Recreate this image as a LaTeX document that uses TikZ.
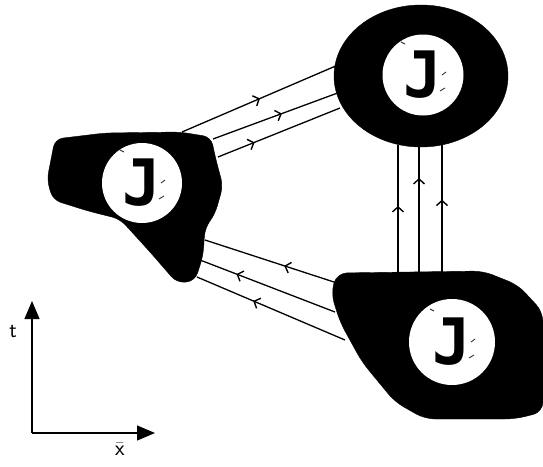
\documentclass[tikz,border=0pt]{standalone}
\usepackage{fontspec}
\newfontfamily\jfont{DejaVu Sans Mono}
\usetikzlibrary{arrows.meta,decorations.markings}
\tikzset{
  blob/.style={fill=black, draw=black},
  hole/.style={circle, fill=white, inner sep=0pt, font=\jfont\bfseries\fontsize{64}{66}\selectfont},
  wire/.style={line width=1.3pt},
  chev/.style={postaction={decorate, decoration={markings, mark=at position #1 with {\arrow{Straight Barb[length=5pt,width=11pt,line width=1.4pt]}}}}},
  axis/.style={line width=1.2pt, -{Triangle[length=18pt,width=15pt]}},
  speck/.style={line width=0.9pt, black!80},
  lab/.style={font=\sffamily\fontsize{22}{24}\selectfont, inner sep=0pt}
}
\begin{document}
\begin{tikzpicture}[x=1pt,y=-1pt]
\useasboundingbox (0,0) rectangle (543,466);
% blobs
\fill[blob] (421,76) ellipse [x radius=87, y radius=71];
\fill[blob, rounded corners=8pt] (55,139) -- (105,133) -- (180,132) -- (211,137) -- (216,160) -- (223,186) -- (215,214) -- (205,228) -- (203,256) -- (195,281) -- (177,283) -- (150,252) -- (120,219) -- (88,211) -- (53,200) -- (47,180) -- cycle;
\fill[blob, rounded corners=10pt] (337,273) -- (483,271) -- (518,285) -- (543,312) -- (543,412) -- (515,419) -- (425,419) -- (395,402) -- (362,362) -- (340,322) -- (331,293) -- cycle;
% holes
\node[hole, minimum size=81pt] (JT) at (423,75) {J};
\node[hole, minimum size=80pt] (JL) at (142,183) {J};
\node[hole, minimum size=86pt] (JB) at (452,342) {J};
% specks
\foreach \n in {JT,JL,JB}{
  \draw[speck] ([shift={(-22,-33)}]\n.center) -- ++(4,2);
  \draw[speck] ([shift={(19,0)}]\n.center) -- ++(4,-3);
  \draw[speck] ([shift={(17,16)}]\n.center) -- ++(5,-3);
}
% endpoints
\coordinate (a1) at (182,132); \coordinate (b1) at (338,65);
\coordinate (a2) at (213,139); \coordinate (b2) at (343,91);
\coordinate (a3) at (218,157); \coordinate (b3) at (340,108);
\coordinate (c1) at (337,283); \coordinate (d1) at (205,240);
\coordinate (c2) at (335,312); \coordinate (d2) at (200,260);
\coordinate (c3) at (345,340); \coordinate (d3) at (197,277);
\coordinate (e1) at (398,272); \coordinate (f1) at (398,145);
\coordinate (e2) at (419,272); \coordinate (f2) at (419,145);
\coordinate (e3) at (442,272); \coordinate (f3) at (442,145);
% wires top
\draw[wire, chev=0.5] (a1) -- (b1);
\draw[wire, chev=0.53] (a2) -- (b2);
\draw[wire, chev=0.3] (a3) -- (b3);
% wires bottom
\draw[wire, chev=0.4] (c1) -- (d1);
\draw[wire, chev=0.73] (c2) -- (d2);
\draw[wire, chev=0.62] (c3) -- (d3);
% wires vertical
\draw[wire, chev=0.52] (e1) -- (f1);
\draw[wire, line width=2.2pt, chev=0.74] (e2) -- (f2);
\draw[wire, chev=0.57] (e3) -- (f3);
% axes
\coordinate (O) at (32,433);
\coordinate (T) at (32,301);
\coordinate (X) at (155,433);
\draw[axis] (O) -- (T);
\draw[axis] (O) -- (X);
\node[lab] (tl) at (13,331) {t};
\node[lab] (xl) at (120,449) {$\bar{\mathsf{x}}$};
\end{tikzpicture}
\end{document}
